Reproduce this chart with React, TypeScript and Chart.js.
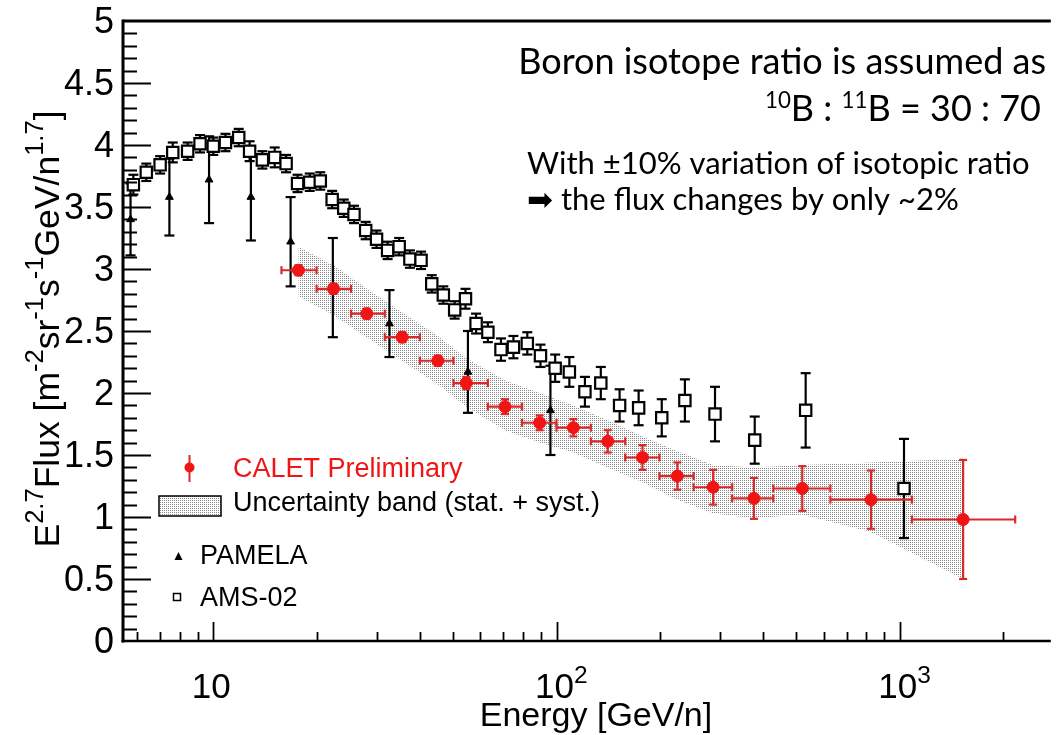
import React, { useEffect, useRef } from 'react';
import { Chart, registerables } from 'chart.js';

Chart.register(...registerables);

// ---------- CALET (red) ----------
const caletEnergy = [17.7, 22.4, 28.0, 35.5, 45.1, 54.6, 70.8, 89.3, 112, 141, 178, 225, 286, 376, 520, 825, 1530];
const caletFlux = [2.99, 2.84, 2.64, 2.45, 2.26, 2.08, 1.89, 1.76, 1.72, 1.61, 1.48, 1.33, 1.24, 1.15, 1.23, 1.14, 0.98];
const caletErr = [0.04, 0.04, 0.04, 0.04, 0.04, 0.05, 0.06, 0.06, 0.07, 0.09, 0.1, 0.11, 0.14, 0.165, 0.18, 0.235, 0.48];
const caletElow = [15.8, 20.0, 25.2, 31.6, 40.0, 50.1, 63.1, 79.4, 100, 125.9, 158.5, 199.5, 251, 325, 428, 628, 1086];
const caletEhigh = [20.0, 25.2, 31.6, 40.0, 50.1, 63.1, 79.4, 100, 125.9, 158.5, 199.5, 251, 325, 428, 628, 1086, 2170];

// ---------- Uncertainty band (stat. + syst.) ----------
const bandUpper = [3.18, 3.03, 2.84, 2.65, 2.46, 2.28, 2.1, 2.0, 1.9, 1.78, 1.65, 1.53, 1.42, 1.4, 1.42, 1.44, 1.47];
const bandLower = [2.78, 2.63, 2.45, 2.26, 2.07, 1.89, 1.7, 1.6, 1.52, 1.4, 1.28, 1.14, 1.03, 0.99, 1.02, 0.88, 0.5];

// ---------- PAMELA ----------
const pamelaEnergy = [5.74, 7.45, 9.72, 12.87, 16.8, 22.3, 32.6, 55.2, 96];
const pamelaFlux = [3.4, 3.58, 3.72, 3.58, 3.22, 2.85, 2.56, 2.17, 1.86];
const pamelaErr = [0.29, 0.31, 0.35, 0.35, 0.36, 0.4, 0.27, 0.33, 0.36];

// ---------- AMS-02 ----------
const amsEnergy = [5.85, 6.38, 7.0, 7.62, 8.42, 9.15, 10.0, 10.85, 11.86, 12.76, 13.9, 15.1, 16.3, 17.6, 19.1, 20.5, 22.2, 24.0, 25.7, 27.8, 29.9, 32.2, 34.8, 37.4, 40.3, 43.3, 46.8, 50.5, 54.3, 58.3, 63.1, 68.9, 74.9, 82.2, 89.8, 99.1, 109, 121, 134.6, 152.7, 173.5, 202.6, 236.6, 289.6, 378, 532, 1029];
const amsFlux = [3.68, 3.78, 3.84, 3.94, 3.95, 4.01, 3.99, 4.02, 4.06, 3.95, 3.88, 3.9, 3.85, 3.69, 3.7, 3.71, 3.56, 3.49, 3.44, 3.31, 3.24, 3.15, 3.18, 3.08, 3.07, 2.88, 2.79, 2.67, 2.76, 2.56, 2.49, 2.35, 2.37, 2.4, 2.3, 2.2, 2.17, 2.01, 2.08, 1.9, 1.88, 1.8, 1.94, 1.83, 1.62, 1.86, 1.23];
const amsErr = [0.08, 0.07, 0.07, 0.08, 0.07, 0.07, 0.07, 0.07, 0.07, 0.08, 0.07, 0.08, 0.07, 0.07, 0.07, 0.07, 0.07, 0.07, 0.07, 0.07, 0.07, 0.07, 0.07, 0.07, 0.07, 0.07, 0.07, 0.07, 0.08, 0.08, 0.08, 0.09, 0.09, 0.09, 0.09, 0.11, 0.12, 0.12, 0.13, 0.13, 0.14, 0.15, 0.17, 0.22, 0.19, 0.3, 0.4];

// ---------- axes ----------
const xMajorTicks = [10, 100, 1000];
const xMajorExp = ['', '2', '3'];
const xMinorTicks = [6, 7, 8, 9, 20, 30, 40, 50, 60, 70, 80, 90, 200, 300, 400, 500, 600, 700, 800, 900, 2000];
const yMajorTicks = [0, 0.5, 1, 1.5, 2, 2.5, 3, 3.5, 4, 4.5, 5];
const yMajorLabels = ['0', '0.5', '1', '1.5', '2', '2.5', '3', '3.5', '4', '4.5', '5'];

const RED = '#f01414';
const RED_BAR = '#d82a2a';
const SANS = "'Liberation Sans', Arial, sans-serif";
const CAL = "Lato, 'DejaVu Sans', sans-serif";

function makePattern(): CanvasPattern | string {
  const c = document.createElement('canvas');
  c.width = 2;
  c.height = 2;
  const g = c.getContext('2d');
  if (!g) return '#ddd';
  g.fillStyle = '#888888';
  g.fillRect(0, 0, 1, 1);
  const p = g.createPattern(c, 'repeat');
  return p || '#ddd';
}

type Seg = { t: string; sup?: boolean };

function richWidth(ctx: CanvasRenderingContext2D, segs: Seg[], size: number, family: string, supScale: number) {
  let w = 0;
  for (const s of segs) {
    ctx.font = `${s.sup ? size * supScale : size}px ${family}`;
    w += ctx.measureText(s.t).width;
  }
  return w;
}

function drawRich(ctx: CanvasRenderingContext2D, segs: Seg[], x: number, y: number, size: number, family: string, supScale = 0.7, raise = 0.42) {
  let cx = x;
  for (const s of segs) {
    const fs = s.sup ? size * supScale : size;
    ctx.font = `${fs}px ${family}`;
    ctx.fillText(s.t, cx, s.sup ? y - size * raise : y);
    cx += ctx.measureText(s.t).width;
  }
}

function line(ctx: CanvasRenderingContext2D, x1: number, y1: number, x2: number, y2: number) {
  ctx.beginPath();
  ctx.moveTo(x1, y1);
  ctx.lineTo(x2, y2);
  ctx.stroke();
}

const errorBarPlugin = {
  id: 'errorBars',
  beforeDatasetDraw(chart: any, args: any) {
    if (args.index !== 2) return;
    const { ctx } = chart;
    const x = chart.scales.x;
    const y = chart.scales.y;
    ctx.save();
    ctx.lineCap = 'butt';
    // AMS-02
    ctx.strokeStyle = '#000';
    ctx.lineWidth = 2.2;
    amsEnergy.forEach((e, i) => {
      const px = x.getPixelForValue(e);
      const y1 = y.getPixelForValue(amsFlux[i] + amsErr[i]);
      const y2 = y.getPixelForValue(amsFlux[i] - amsErr[i]);
      line(ctx, px, y1, px, y2);
      line(ctx, px - 5, y1, px + 5, y1);
      line(ctx, px - 5, y2, px + 5, y2);
    });
    // PAMELA
    pamelaEnergy.forEach((e, i) => {
      const px = x.getPixelForValue(e);
      const y1 = y.getPixelForValue(pamelaFlux[i] + pamelaErr[i]);
      const y2 = y.getPixelForValue(pamelaFlux[i] - pamelaErr[i]);
      line(ctx, px, y1, px, y2);
      line(ctx, px - 5, y1, px + 5, y1);
      line(ctx, px - 5, y2, px + 5, y2);
    });
    // CALET
    ctx.strokeStyle = RED_BAR;
    ctx.lineWidth = 2.2;
    caletEnergy.forEach((e, i) => {
      const px = x.getPixelForValue(e);
      const py = y.getPixelForValue(caletFlux[i]);
      const xl = x.getPixelForValue(caletElow[i]);
      const xh = x.getPixelForValue(caletEhigh[i]);
      line(ctx, xl, py, xh, py);
      line(ctx, xl, py - 4, xl, py + 4);
      line(ctx, xh, py - 4, xh, py + 4);
      const y1 = y.getPixelForValue(caletFlux[i] + caletErr[i]);
      const y2 = y.getPixelForValue(caletFlux[i] - caletErr[i]);
      line(ctx, px, y1, px, y2);
      line(ctx, px - 4, y1, px + 4, y1);
      line(ctx, px - 4, y2, px + 4, y2);
    });
    ctx.restore();
  },
};

const framePlugin = {
  id: 'frame',
  afterDraw(chart: any) {
    const { ctx, chartArea } = chart;
    const x = chart.scales.x;
    const y = chart.scales.y;
    const L = chartArea.left;
    const T = chartArea.top;
    const R = chartArea.right;
    const B = chartArea.bottom;
    ctx.save();
    ctx.strokeStyle = '#000';
    ctx.fillStyle = '#000';
    // frame
    ctx.lineWidth = 3;
    line(ctx, L, T, R, T);
    line(ctx, L, T - 1.5, L, B + 1.5);
    ctx.lineWidth = 2.5;
    line(ctx, L - 1.5, B, R, B);
    // y ticks
    ctx.lineWidth = 2;
    for (let k = 1; k < 50; k++) {
      const v = k / 10;
      const py = Math.round(y.getPixelForValue(v)) + 0.5;
      const major = k % 5 === 0;
      line(ctx, L, py, L + (major ? 28 : 14), py);
    }
    // x ticks
    ctx.lineWidth = 1.8;
    xMinorTicks.forEach((v) => {
      const px = Math.round(x.getPixelForValue(v)) + 0.5;
      line(ctx, px, B, px, B - 9);
    });
    xMajorTicks.forEach((v) => {
      const px = Math.round(x.getPixelForValue(v)) + 0.5;
      line(ctx, px, B, px, B - 19);
    });
    // y labels
    ctx.textAlign = 'right';
    ctx.textBaseline = 'middle';
    ctx.font = `36px ${SANS}`;
    yMajorTicks.forEach((v, i) => {
      ctx.fillText(yMajorLabels[i], L - 9, y.getPixelForValue(v) + 2);
    });
    // x labels
    ctx.textBaseline = 'alphabetic';
    ctx.textAlign = 'left';
    xMajorTicks.forEach((v, i) => {
      const px = x.getPixelForValue(v);
      ctx.font = `35px ${SANS}`;
      const w = ctx.measureText('10').width;
      drawRich(ctx, [{ t: '10' }, { t: xMajorExp[i], sup: true }], px - w / 2 - 2, 698, 35, SANS, 0.7, 0.42);
    });
    // x title
    ctx.font = `34px ${SANS}`;
    ctx.textAlign = 'center';
    ctx.fillText('Energy [GeV/n]', 596, 726);
    // y title (rotated)
    const ySegs: Seg[] = [
      { t: 'E' }, { t: '2.7', sup: true }, { t: 'Flux [m' }, { t: '-2', sup: true }, { t: 'sr' },
      { t: '-1', sup: true }, { t: 's' }, { t: '-1', sup: true }, { t: 'GeV/n' }, { t: '1.7', sup: true }, { t: ']' },
    ];
    ctx.textAlign = 'left';
    const tw = richWidth(ctx, ySegs, 35.5, SANS, 0.72);
    ctx.save();
    ctx.translate(59, 329);
    ctx.rotate(-Math.PI / 2);
    drawRich(ctx, ySegs, -tw / 2, 0, 35.5, SANS, 0.72, 0.45);
    ctx.restore();

    // legend
    ctx.strokeStyle = RED_BAR;
    ctx.lineWidth = 2;
    line(ctx, 189.5, 455, 189.5, 482);
    ctx.fillStyle = RED;
    ctx.beginPath();
    ctx.arc(189.5, 467.5, 5, 0, Math.PI * 2);
    ctx.fill();
    ctx.font = `27px ${SANS}`;
    ctx.textAlign = 'left';
    ctx.fillText('CALET Preliminary', 233, 477);
    ctx.fillStyle = makePattern();
    ctx.fillRect(159, 496, 62, 20);
    ctx.strokeStyle = '#000';
    ctx.lineWidth = 1.5;
    ctx.strokeRect(159, 496, 62, 20);
    ctx.fillStyle = '#000';
    ctx.fillText('Uncertainty band (stat. + syst.)', 233, 511);
    ctx.beginPath();
    ctx.moveTo(178.5, 552);
    ctx.lineTo(182.5, 560);
    ctx.lineTo(174.5, 560);
    ctx.closePath();
    ctx.fill();
    ctx.fillText('PAMELA', 200, 564);
    ctx.fillStyle = '#fff';
    ctx.fillRect(173.5, 593.5, 7, 7);
    ctx.strokeRect(173.5, 593.5, 7, 7);
    ctx.fillStyle = '#000';
    ctx.fillText('AMS-02', 200, 606);

    // annotation text
    ctx.fillStyle = '#000';
    ctx.textAlign = 'right';
    ctx.font = `36px ${CAL}`;
    ctx.fillText('Boron isotope ratio is assumed as', 1046, 74);
    ctx.textAlign = 'left';
    const l2: Seg[] = [{ t: '10', sup: true }, { t: 'B : ' }, { t: '11', sup: true }, { t: 'B = 30 : 70' }];
    const l2w = richWidth(ctx, l2, 36, CAL, 0.62);
    drawRich(ctx, l2, 1041 - l2w, 121, 36, CAL, 0.62, 0.36);
    ctx.font = `31px ${CAL}`;
    ctx.fillText('With \u00B110% variation of isotopic ratio', 527, 174);
    ctx.fillText('\u27A1 the flux changes by only ~2%', 527, 210);
    ctx.restore();
  },
};

export default function App() {
  const ref = useRef<HTMLCanvasElement>(null);
  useEffect(() => {
    document.body.style.margin = '0';
    const canvas = ref.current;
    if (!canvas) return;
    const pattern = makePattern();
    const chart = new Chart(canvas, {
      type: 'scatter',
      data: {
        datasets: [
          {
            type: 'line',
            label: 'band upper',
            data: caletEnergy.map((e, i) => ({ x: e, y: bandUpper[i] })),
            borderColor: 'transparent',
            backgroundColor: pattern as any,
            pointRadius: 0,
            fill: '+1',
            order: 5,
            tension: 0,
          },
          {
            type: 'line',
            label: 'band lower',
            data: caletEnergy.map((e, i) => ({ x: e, y: bandLower[i] })),
            borderColor: 'transparent',
            backgroundColor: 'transparent',
            pointRadius: 0,
            fill: false,
            order: 5,
            tension: 0,
          },
          {
            label: 'AMS-02',
            data: amsEnergy.map((e, i) => ({ x: e, y: amsFlux[i] })),
            pointStyle: 'rect',
            pointRadius: 8,
            backgroundColor: '#fff',
            borderColor: '#000',
            borderWidth: 2.2,
            order: 3,
          },
          {
            label: 'PAMELA',
            data: pamelaEnergy.map((e, i) => ({ x: e, y: pamelaFlux[i] })),
            pointStyle: 'triangle',
            pointRadius: 4.5,
            backgroundColor: '#000',
            borderColor: '#000',
            borderWidth: 1,
            order: 2,
          },
          {
            label: 'CALET Preliminary',
            data: caletEnergy.map((e, i) => ({ x: e, y: caletFlux[i] })),
            pointStyle: 'circle',
            pointRadius: 6,
            backgroundColor: RED,
            borderColor: RED,
            borderWidth: 1,
            order: 1,
          },
        ],
      } as any,
      options: {
        responsive: false,
        animation: false,
        devicePixelRatio: 1,
        layout: { padding: { left: 123, top: 21, right: 0, bottom: 94 } },
        scales: {
          x: { type: 'logarithmic', min: 5.457, max: 2755, display: false },
          y: { type: 'linear', min: 0, max: 5, display: false },
        },
        plugins: {
          legend: { display: false },
          tooltip: { enabled: false },
        },
        events: [],
      } as any,
      plugins: [errorBarPlugin, framePlugin],
    });
    return () => chart.destroy();
  }, []);
  return (
    <div style={{ position: 'fixed', left: 0, top: 0, width: 1061, height: 735, background: '#fff' }}>
      <canvas ref={ref} width={1061} height={735} style={{ display: 'block', width: 1061, height: 735 }} />
    </div>
  );
}
